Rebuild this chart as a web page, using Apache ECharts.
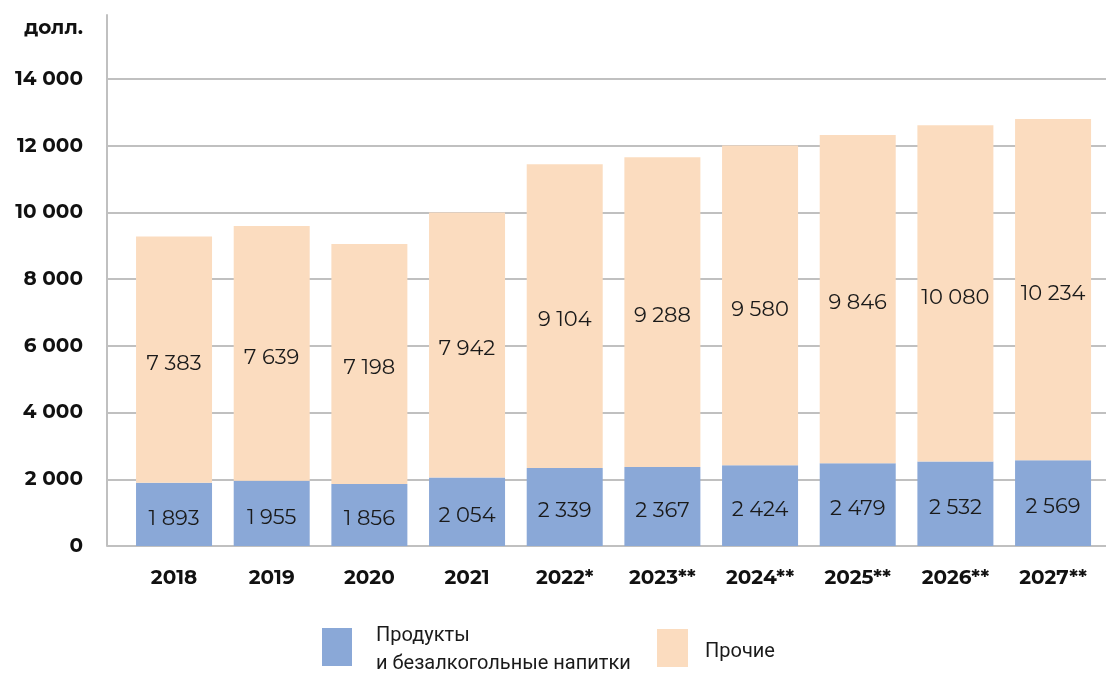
<!DOCTYPE html>
<html>
<head>
<meta charset="utf-8">
<script src="https://cdn.jsdelivr.net/npm/echarts@6/dist/echarts.min.js"></script>
<style>
html, body { margin: 0; padding: 0; background: #fff; }
#chart { width: 1106px; height: 673px; }
</style>
</head>
<body>
<div id="chart"></div>
<script>
// годы и значения (долл.)
let years = ['2018', '2019', '2020', '2021', '2022*', '2023**', '2024**', '2025**', '2026**', '2027**'];
let foodData = [1893, 1955, 1856, 2054, 2339, 2367, 2424, 2479, 2532, 2569];	// продукты и напитки
let otherData = [7383, 7639, 7198, 7942, 9104, 9288, 9580, 9846, 10080, 10234];	// прочие
let seriesNames = ['Продукты\nи безалкогольные напитки', 'Прочие'];
let colors = ['#8aa8d7', '#fbdcbf'];
let fontFam = 'Montserrat, Inter, "Noto Sans", sans-serif';
let legendFont = 'Roboto, "Noto Sans", sans-serif';

let yMax = 15920;

// пробел как разделитель тысяч
function fmt(v){
	return String(v).replace(/\B(?=(\d{3})+(?!\d))/g, ' ');
}

let myChart = echarts.init(document.getElementById('chart'));

let labelStyle = {
	show: true,
	position: 'inside',
	offset: [0, 4],
	color: '#1a1a1a',
	fontSize: 21,
	fontFamily: fontFam,
	formatter: p => fmt(p.value)
};

let boldText = { fontSize: 20, fontWeight: 'bold', color: '#111', fontFamily: fontFam };

let option = {
	animation: false,
	legend: [
		{
			data: [seriesNames[0]],
			left: 317, top: 615,
			itemWidth: 30, itemHeight: 38,
			icon: 'rect',
			formatter: '{a|{name}}',
			textStyle: {
				rich: { a: { fontSize: 20, fontFamily: legendFont, color: '#1a1a1a', lineHeight: 28, padding: [6, 0, 0, 19] } }
			}
		},
		{
			data: [seriesNames[1]],
			left: 652, top: 624,
			itemWidth: 31, itemHeight: 38,
			icon: 'rect',
			formatter: '{a|{name}}',
			textStyle: {
				rich: { a: { fontSize: 20, fontFamily: legendFont, color: '#1a1a1a', padding: [8, 0, 0, 12] } }
			}
		}
	],
	grid: [
		{ left: 107, right: 0, top: 79, bottom: 127 },		// сетка 0..14 000
		{ left: 125.2, right: 4.1, top: 15, bottom: 127 },	// столбцы
		{ left: 107, right: 0, top: 15, bottom: 127 }		// ось Y и подпись
	],
	xAxis: [
		{ type: 'category', gridIndex: 0, show: false, data: [''] },
		{
			type: 'category', gridIndex: 1, data: years,
			axisLine: { show: false }, axisTick: { show: false },
			axisLabel: Object.assign({ margin: 22 }, boldText)
		},
		{ type: 'category', gridIndex: 2, show: false, data: [''] }
	],
	yAxis: [
		{
			type: 'value', gridIndex: 0, min: 0, max: 14000, interval: 2000,
			axisLine: { show: false },
			axisTick: { show: false },
			splitLine: { show: true, lineStyle: { color: '#c0c0c0', width: 2 } },
			axisLabel: Object.assign({ margin: 24, formatter: v => fmt(v) }, boldText)
		},
		{ type: 'value', gridIndex: 1, min: 0, max: yMax, show: false, splitLine: { show: false } },
		{
			type: 'value', gridIndex: 2, min: 0, max: yMax,
			name: 'долл.', nameLocation: 'end', nameGap: -23,
			nameTextStyle: Object.assign({ align: 'right', padding: [0, 24, 0, 0] }, boldText),
			axisLine: { show: true, lineStyle: { color: '#c0c0c0', width: 2 } },
			axisTick: { show: false },
			axisLabel: { show: false },
			splitLine: { show: false }
		}
	],
	series: [
		{
			name: seriesNames[0], type: 'bar', stack: 'total',
			xAxisIndex: 1, yAxisIndex: 1, barWidth: 76,
			itemStyle: { color: colors[0] },
			label: labelStyle,
			data: foodData
		},
		{
			name: seriesNames[1], type: 'bar', stack: 'total',
			xAxisIndex: 1, yAxisIndex: 1, barWidth: 76,
			itemStyle: { color: colors[1] },
			label: labelStyle,
			data: otherData
		}
	]
};

myChart.setOption(option, true);
</script>
</body>
</html>
